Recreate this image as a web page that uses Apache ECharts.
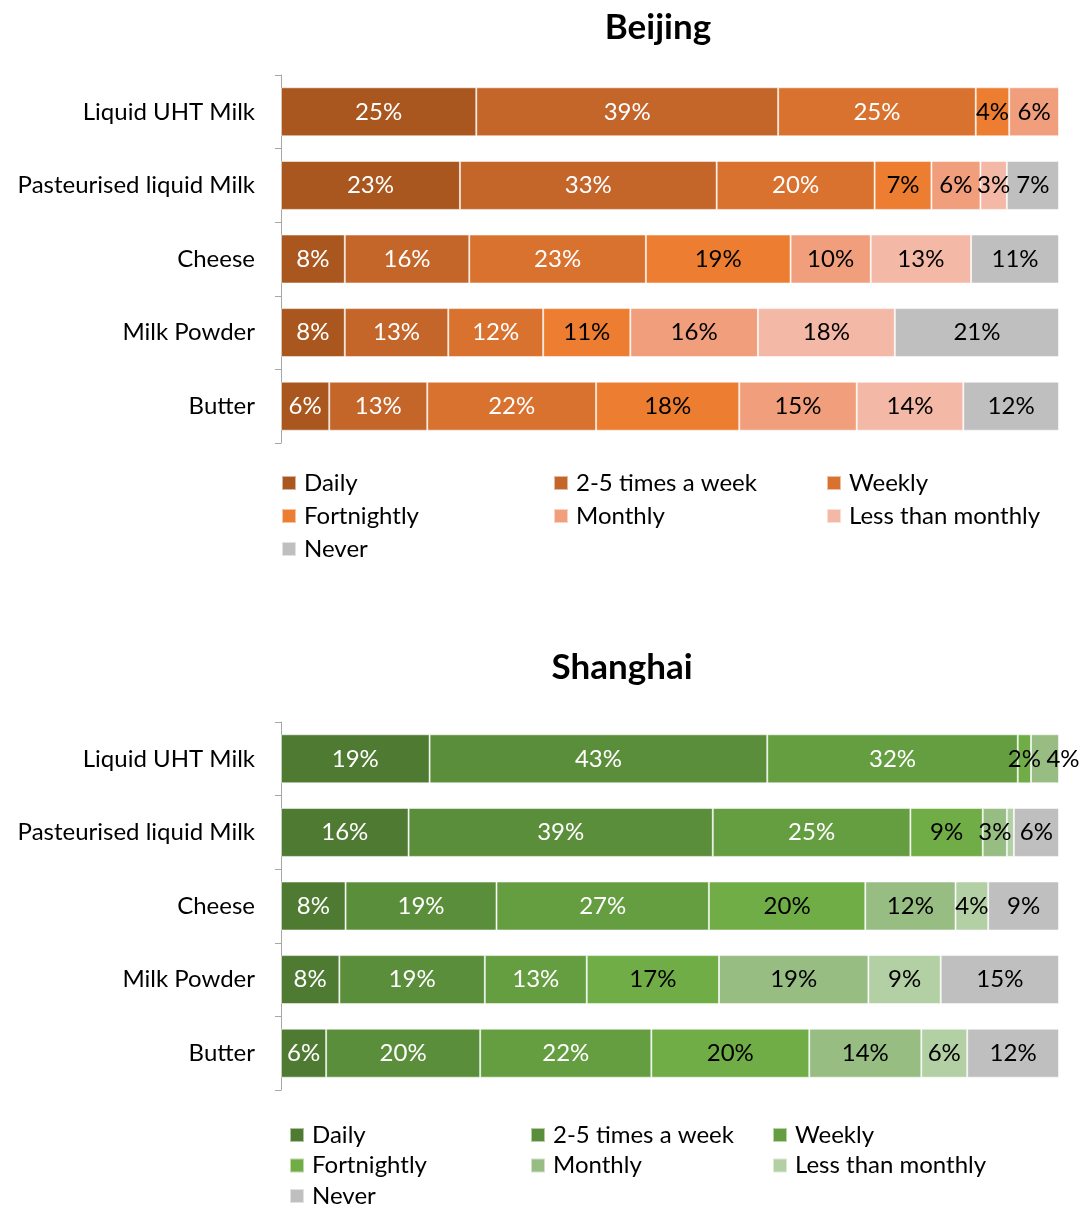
<!DOCTYPE html>
<html>
<head>
<meta charset="utf-8">
<script src="https://cdn.jsdelivr.net/npm/echarts@6/dist/echarts.min.js"></script>
<style>
  html, body { margin: 0; padding: 0; background: #fff; }
  #chart { width: 1086px; height: 1205px; }
</style>
</head>
<body>
<div id="chart"></div>
<script>
// Products surveyed (top to bottom)
const categories = ['Liquid UHT Milk', 'Pasteurised liquid Milk', 'Cheese', 'Milk Powder', 'Butter'];
const frequencies = ['Daily', '2-5 times a week', 'Weekly', 'Fortnightly', 'Monthly', 'Less than monthly', 'Never'];

// Beijing: share of respondents (%) per purchase frequency
const bjDaily       = [25.1, 23.0, 8.2, 8.2, 6.2];
const bjTwoFive     = [38.8, 33.0, 16.0, 13.3, 12.6];
const bjWeekly      = [25.4, 20.3, 22.7, 12.2, 21.7];
const bjFortnightly = [4.3, 7.3, 18.6, 11.2, 18.4];
const bjMonthly     = [6.4, 6.3, 10.3, 16.4, 15.1];
const bjLess        = [null, 3.4, 12.9, 17.6, 13.7];
const bjNever       = [null, 6.7, 11.3, 21.1, 12.3];

// Shanghai: share of respondents (%) per purchase frequency
const shDaily       = [19.1, 16.4, 8.3, 7.5, 5.8];
const shTwoFive     = [43.4, 39.1, 19.4, 18.7, 19.8];
const shWeekly      = [32.2, 25.4, 27.3, 13.1, 22.0];
const shFortnightly = [1.7, 9.3, 20.1, 17.0, 20.3];
const shMonthly     = [3.6, 3.1, 11.6, 19.2, 14.4];
const shLess        = [null, 0.9, 4.2, 9.3, 5.9];
const shNever       = [null, 5.8, 9.1, 15.2, 11.8];

const bjColors = ['#A9571F', '#C4652A', '#D9712F', '#ED7D31', '#F09E7C', '#F4B9A6', '#BFBFBF'];
const shColors = ['#4E7A31', '#5B8E3B', '#659E40', '#70AD47', '#97BD83', '#B3CFA4', '#BFBFBF'];
const labelColors = ['#fff', '#fff', '#fff', '#000', '#000', '#000', '#000'];

const FONT = 'Lato, "Open Sans", sans-serif';
const FS = 24;

function buildSeries(prefix, gridIndex, colors, rows, labelShift) {
  return rows.map((vals, i) => ({
    name: prefix + '|' + frequencies[i],
    type: 'bar',
    stack: prefix,
    xAxisIndex: gridIndex,
    yAxisIndex: gridIndex,
    barWidth: 49,
    itemStyle: { color: colors[i], borderColor: 'rgba(255,255,255,0.55)', borderWidth: 1 },
    label: {
      show: true,
      position: 'inside',
      color: labelColors[i],
      fontFamily: FONT,
      fontSize: FS,
      formatter: p => (p.value == null || p.value < 1) ? '' : Math.round(p.value) + '%'
    },
    data: vals.map((v, r) => {
      if (v == null) return '-';
      const shift = labelShift && labelShift[i] && labelShift[i][r];
      return shift ? { value: v, label: { offset: [shift, 0] } } : v;
    })
  }));
}

function makeGrid(top) {
  return { left: 281, right: 27, top: top, height: 368 };
}

function makeXAxis(gridIndex) {
  return { type: 'value', gridIndex, min: 0, max: 100, show: false };
}

function makeYAxis(gridIndex) {
  return {
    type: 'category', gridIndex, data: categories, inverse: true,
    axisLine: { show: true, lineStyle: { color: '#A6A6A6', width: 1 } },
    axisTick: { show: true, length: 6, lineStyle: { color: '#A6A6A6' } },
    axisLabel: { fontFamily: FONT, fontSize: FS, color: '#000', margin: 26 }
  };
}

// Legend columns laid out as three vertical lists per chart
function makeLegends(prefix, left, top, gap) {
  const cols = [[0, 3, 6], [1, 4], [2, 5]];
  return cols.map((idx, c) => ({
    orient: 'vertical',
    left: left[c],
    top: top,
    padding: 0,
    height: 120,
    itemWidth: 14,
    itemHeight: 14,
    itemGap: gap,
    icon: 'rect',
    selectedMode: false,
    data: idx.map(i => prefix + '|' + frequencies[i]),
    formatter: name => name.split('|')[1],
    textStyle: { fontFamily: FONT, fontSize: FS, color: '#000', lineHeight: 24, padding: [0, 0, 0, 3] }
  }));
}

const chart = echarts.init(document.getElementById('chart'));
chart.setOption({
  animation: false,
  graphic: [
    { type: 'text', x: 658, y: 28, style: { text: 'Beijing', font: 'bold 35px ' + FONT, fill: '#000', textAlign: 'center', textVerticalAlign: 'middle' } },
    { type: 'text', x: 622, y: 668, style: { text: 'Shanghai', font: 'bold 35px ' + FONT, fill: '#000', textAlign: 'center', textVerticalAlign: 'middle' } }
  ],
  grid: [makeGrid(75), makeGrid(722)],
  xAxis: [makeXAxis(0), makeXAxis(1)],
  yAxis: [makeYAxis(0), makeYAxis(1)],
  legend: [
    ...makeLegends('Beijing', [281, 553, 826], 471, 9),
    ...makeLegends('Shanghai', [289, 530, 772], 1123, 6.5)
  ],
  series: [
    ...buildSeries('Beijing', 0, bjColors, [bjDaily, bjTwoFive, bjWeekly, bjFortnightly, bjMonthly, bjLess, bjNever]),
    // the small UHT "Monthly" label sits just right of its narrow segment
    ...buildSeries('Shanghai', 1, shColors, [shDaily, shTwoFive, shWeekly, shFortnightly, shMonthly, shLess, shNever],
      { 4: { 0: 18 } })
  ]
});
</script>
</body>
</html>
